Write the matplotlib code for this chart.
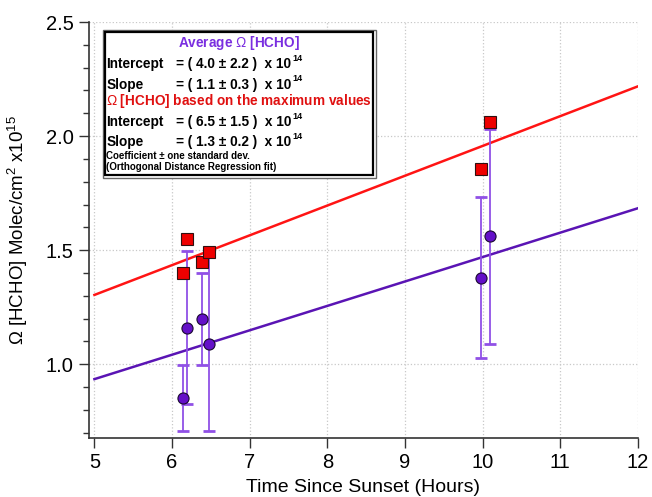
import numpy as np
import matplotlib
matplotlib.use("Agg")
import matplotlib.pyplot as plt
from matplotlib.patches import Rectangle

plt.rcParams['font.family'] = ['Liberation Sans', 'DejaVu Sans']
plt.rcParams['mathtext.fontset'] = 'custom'
plt.rcParams['mathtext.rm'] = 'Liberation Sans'
plt.rcParams['mathtext.bf'] = 'Liberation Sans:bold'

# measurement times (hours after sunset)
obs_time = [6.135, 6.186, 6.387, 6.474, 9.978, 10.09]
# average column and its standard deviation (x1e15 molec/cm2)
avg_hcho = [0.854, 1.160, 1.199, 1.089, 1.379, 1.561]
avg_std = [0.145, 0.335, 0.200, 0.380, 0.352, 0.470]
# maximum column values
max_hcho = [1.400, 1.551, 1.449, 1.490, 1.858, 2.060]

# ODR fit coefficients (x1e15 and x1e15 per hour)
avg_intercept, avg_slope = 0.400, 0.107
max_intercept, max_slope = 0.651, 0.1306
fit_range = [5, 12]

purple = '#5A14B4'
purple_err = '#9050E6'
red = '#FF1414'

W, H = 652, 497
fig = plt.figure(figsize=(W / 100, H / 100), dpi=100)
ax = fig.add_axes([89 / W, (H - 438) / H, (638 - 89) / W, (438 - 22) / H])

fx = np.array(fit_range, dtype=float)
ax.plot(fx, avg_intercept + avg_slope * fx, color=purple, lw=1.8, zorder=3)
ax.plot(fx, max_intercept + max_slope * fx, color=red, lw=1.8, zorder=3)

ax.errorbar(obs_time, avg_hcho, yerr=avg_std, fmt='none', ecolor=purple_err,
            elinewidth=1.3, capsize=4, capthick=2, zorder=4)
ax.plot(obs_time, avg_hcho, 'o', ms=8, mfc='#6410C8', mec='#1a0a30', mew=0.8, zorder=5)
ax.plot(obs_time, max_hcho, 's', ms=8.5, mfc='#EE0000', mec='#301010', mew=0.8, zorder=6)

ax.set_xlim(4.93, 12)
ax.set_ylim(0.677, 2.5)
ax.set_xticks(range(5, 13))
ax.set_yticks([1.0, 1.5, 2.0, 2.5])
ax.set_yticks(np.arange(0.7, 2.5, 0.1), minor=True)
ax.yaxis.set_major_formatter(matplotlib.ticker.FormatStrFormatter('%.1f'))

ax.grid(True, which='major', color='#c8c8c8', ls=':', lw=0.9)
ax.set_axisbelow(True)
for side in ('top', 'right'):
    ax.spines[side].set_visible(False)
for side in ('left', 'bottom'):
    ax.spines[side].set_color('#333333')
    ax.spines[side].set_linewidth(1.2)

ax.tick_params(axis='both', which='major', direction='out', length=7, width=1,
               color='#333333', labelsize=14.5, pad=4)
ax.tick_params(axis='y', which='minor', direction='out', length=4.5, width=1,
               color='#333333')
ax.tick_params(axis='x', which='minor', length=0)

ax.set_xlabel('Time Since Sunset (Hours)', fontsize=14, labelpad=5)
ax.set_ylabel(r'$\Omega$ [HCHO] Molec/cm$^{2}$ x10$^{15}$', fontsize=13.5, labelpad=6)
ax.yaxis.set_label_coords(-(89 - 30) / (638 - 89), 0.5)


def fig_xy(px, py):
    return px / W, 1 - py / H


# coefficient box
x0, y0, x1, y1 = 102.5, 29.5, 375.5, 177.5
bx, by = fig_xy(x0, y1)
fig.patches.append(Rectangle((bx, by), (x1 - x0) / W, (y1 - y0) / H,
                             transform=fig.transFigure, facecolor='white',
                             edgecolor='#666666', lw=1.0, zorder=10))
bx, by = fig_xy(x0 + 2.5, y1 - 2.5)
fig.patches.append(Rectangle((bx, by), (x1 - x0 - 5) / W, (y1 - y0 - 5) / H,
                             transform=fig.transFigure, facecolor='white',
                             edgecolor='black', lw=1.6, zorder=11))

cx = (x0 + x1) / 2
fig.text(*fig_xy(cx, 43), r'Average $\Omega$ [HCHO]', color='#7A2EE0', fontsize=9.8,
         fontweight='bold', ha='center', va='center', zorder=12)
fig.text(*fig_xy(cx, 101), r'$\Omega$ [HCHO] based on the maximum values', color='#E01010',
         fontsize=9.8, fontweight='bold', ha='center', va='center', zorder=12)

rows = [
    (64, 'Intercept', '= ( 4.0 \u00b1 2.2 )  x 10'),
    (84.5, 'Slope', '= ( 1.1 \u00b1 0.3 )  x 10'),
    (122, 'Intercept', '= ( 6.5 \u00b1 1.5 )  x 10'),
    (142.5, 'Slope', '= ( 1.3 \u00b1 0.2 )  x 10'),
]
for py, name, value in rows:
    fig.text(*fig_xy(106.5, py), name, fontsize=9.8, fontweight='bold',
             ha='left', va='center', zorder=12)
    t = fig.text(*fig_xy(176, py), value, fontsize=9.8, fontweight='bold',
                 ha='left', va='center', zorder=12)
    # exponent sits high, next to the "10"
    fig.texts.append(matplotlib.text.Annotation(
        '14', xy=(1, 0.9), xycoords=t, xytext=(1, 0), textcoords='offset points',
        fontsize=6.5, fontweight='bold', ha='left', va='center', zorder=12))
    fig.texts[-1].set_figure(fig)

fig.text(*fig_xy(106.5, 156), 'Coefficient \u00b1 one standard dev.', fontsize=7,
         fontweight='bold', ha='left', va='center', zorder=12)
fig.text(*fig_xy(106.5, 167.5), '(Orthogonal Distance Regression fit)', fontsize=7,
         fontweight='bold', ha='left', va='center', zorder=12)

fig.savefig('out.png', dpi=100)
